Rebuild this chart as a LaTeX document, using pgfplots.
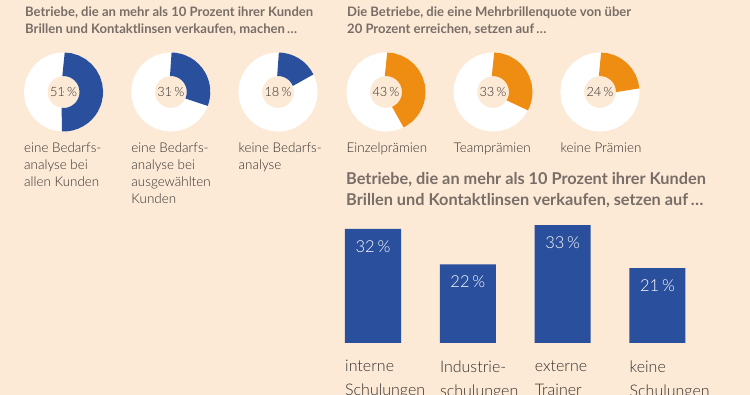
\documentclass[border=0pt]{standalone}
\usepackage{fontspec}
\setmainfont{Lato}
\newfontfamily\lightf{Lato Light}
\usepackage{pgfplots}
\pgfplotsset{compat=1.18}
\definecolor{bg}{RGB}{253,234,214}
\definecolor{blue1}{RGB}{42,79,156}
\definecolor{orange1}{RGB}{239,140,18}
\definecolor{titlegray}{RGB}{120,110,103}
\definecolor{textdark}{RGB}{50,47,45}
\newcommand\titlef{\fontsize{13.05}{17}\selectfont\bfseries}
\newcommand\bigtitlef{\fontsize{16.3}{21}\selectfont\bfseries}
\newcommand\labf{\lightf\fontsize{13.4}{17}\selectfont}
\newcommand\pctf{\lightf\fontsize{12.8}{15}\selectfont}
\newcommand\barlabf{\lightf\fontsize{16}{24}\selectfont}
\newcommand\barvalf{\lightf\fontsize{16.5}{18}\selectfont}
\pgfplotsset{
  /pgf/number format/assume math mode=true,
  donutaxis/.style={scale only axis, height=80pt, xmin=-0.5, xmax=2.5, ymin=-1, ymax=1,
    axis line style={draw=none}, tick style={draw=none}, ytick=\empty, xtick={0,1,2},
    clip=false, anchor=south west,
    xticklabel style={anchor=north west, inner sep=0pt, xshift=-39.5pt, yshift=-11pt,
      align=left, font=\labf, text=textdark}},
  donutplot/.style={only marks, mark=*, mark size=0.1pt,
    mark options={draw=none, fill=none},
    point meta=explicit,
    visualization depends on={value \thisrow{v}\as\val},
    nodes near coords={\pgfmathprintnumber{\pgfplotspointmeta}\,\%},
    every node near coord/.style={anchor=center, font=\pctf, text=textdark},
    scatter/@pre marker code/.append code={
      \pgfmathsetmacro\dang{-3.6*\val}
      \draw[white, line width=23.5pt] (0pt,0pt) circle[radius=27.75pt];
      \draw[#1, line width=23.5pt] (90:27.75pt) arc[start angle=90, delta angle=\dang, radius=27.75pt];
    }}
}
\begin{document}
\begin{tikzpicture}
\useasboundingbox (0pt,0pt) rectangle (750pt,395pt);
\clip (0pt,0pt) rectangle (750pt,395pt);
\fill[bg] (0pt,0pt) rectangle (750pt,395pt);
\node[anchor=north west, inner sep=0pt, align=left, font=\titlef, text=titlegray] at (25pt,388pt)
  {Betriebe, die an mehr als 10 Prozent ihrer Kunden\\Brillen und Kontaktlinsen verkaufen, machen\,…};
\node[anchor=north west, inner sep=0pt, align=left, font=\titlef, text=titlegray] at (347pt,388pt)
  {Die Betriebe, die eine Mehrbrillenquote von über\\20 Prozent erreichen, setzen auf\,…};
\node[anchor=north west, inner sep=0pt, align=left, font=\bigtitlef, text=titlegray] at (346pt,223pt)
  {Betriebe, die an mehr als 10 Prozent ihrer Kunden\\Brillen und Kontaktlinsen verkaufen, setzen auf\,…};

\begin{axis}[donutaxis, at={(9.9pt,263pt)}, width=321.75pt,
  xticklabels={{eine Bedarfs-\\analyse bei\\allen Kunden},{eine Bedarfs-\\analyse bei\\ausgewählten\\Kunden},{keine Bedarfs-\\analyse}}]
\addplot[donutplot=blue1] table[meta=v] {
x y v
0 0 51
1 0 31
2 0 18
};
\end{axis}

\begin{axis}[donutaxis, at={(332.5pt,263pt)}, width=321pt,
  xticklabels={{Einzelprämien},{Teamprämien},{keine Prämien}}]
\addplot[donutplot=orange1] table[meta=v] {
x y v
0 0 43
1 0 33
2 0 24
};
\end{axis}

\begin{axis}[at={(325.58pt,52pt)}, anchor=south west, scale only axis,
  width=379.33pt, height=142.8pt, xmin=-0.5, xmax=3.5, ymin=0, ymax=40,
  ybar, bar width=56pt, axis line style={draw=none}, tick style={draw=none},
  ytick=\empty, xtick=data, clip=false,
  xticklabels={{interne\\Schulungen},{Industrie-\\schulungen},{externe\\Trainer},{keine\\Schulungen}},
  xticklabel style={anchor=north west, inner sep=0pt, xshift=-28pt, yshift=-13pt,
    align=left, font=\barlabf, text=textdark},
  nodes near coords={\pgfmathprintnumber{\pgfplotspointmeta}\,\%},
  every node near coord/.append style={anchor=center, yshift=-17.5pt, font=\barvalf, text=white}]
\addplot[fill=blue1, draw=none] coordinates {(0,32) (1,22) (2,33) (3,21)};
\end{axis}
\end{tikzpicture}
\end{document}
